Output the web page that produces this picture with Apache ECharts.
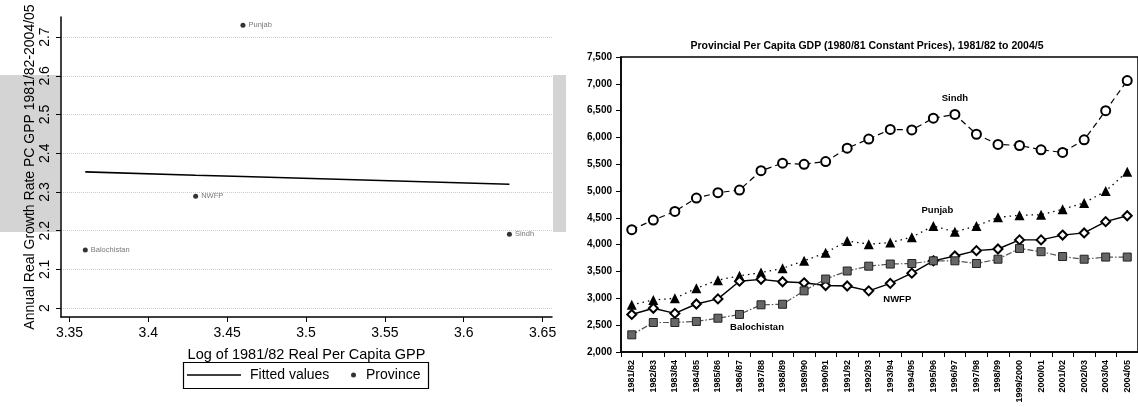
<!DOCTYPE html>
<html>
<head>
<meta charset="utf-8">
<script src="https://cdn.jsdelivr.net/npm/echarts@6/dist/echarts.min.js"></script>
<style>html,body{margin:0;padding:0;background:#fff}#c{width:1138px;height:407px}</style>
</head>
<body>
<div id="c"></div>
<script>
// ---- Left chart data ----
const provinces = ['Punjab', 'NWFP', 'Balochistan', 'Sindh'];
const logGPP = [3.46, 3.43, 3.36, 3.629];
const growthRate = [2.731, 2.289, 2.150, 2.191];
const fittedX = [3.36, 3.43, 3.46, 3.629];
const fittedY = [2.352, 2.343, 2.340, 2.320];
const xTickValues = [3.35, 3.4, 3.45, 3.5, 3.55, 3.6, 3.65];
const yTickValues = [2, 2.1, 2.2, 2.3, 2.4, 2.5, 2.6, 2.7];

// ---- Right chart data ----
const years = ['1981/82','1982/83','1983/84','1984/85','1985/86','1986/87','1987/88','1988/89','1989/90','1990/91','1991/92','1992/93','1993/94','1994/95','1995/96','1996/97','1997/98','1998/99','1999/2000','2000/01','2001/02','2002/03','2003/04','2004/05'];
const sindh = [4280,4460,4620,4870,4970,5020,5380,5520,5500,5550,5800,5970,6150,6140,6360,6430,6060,5870,5850,5770,5720,5955,6500,7060];
const punjab = [2880,2970,3000,3190,3340,3420,3480,3560,3700,3850,4070,4010,4040,4140,4350,4240,4350,4510,4550,4560,4660,4780,5000,5360];
const nwfp = [2700,2815,2720,2895,2990,3320,3355,3310,3290,3240,3230,3140,3280,3470,3700,3790,3890,3920,4090,4090,4180,4220,4430,4540];
const balochistan = [2320,2550,2550,2570,2630,2700,2880,2890,3140,3360,3510,3600,3640,3650,3700,3700,3650,3730,3930,3870,3780,3730,3770,3770];

const FONT = 'Liberation Sans, Arial, sans-serif';

function labelAt(arr, idx, text, opt) {
  return arr.map((v, i) => i === idx ? {
    value: v,
    label: Object.assign({ show: true, formatter: text, fontFamily: FONT, fontWeight: 'bold', fontSize: 9.5, color: '#000' }, opt)
  } : v);
}

const chart = echarts.init(document.getElementById('c'), null, { renderer: 'canvas' });

const option = {
  animation: false,
  backgroundColor: '#fff',
  title: {
    text: 'Provincial Per Capita GDP (1980/81 Constant Prices), 1981/82 to 2004/5',
    left: 862, top: 36, textAlign: 'center',
    textStyle: { fontFamily: FONT, fontWeight: 'bold', fontSize: 10.5, color: '#000' }
  },
  graphic: [
    { type: 'rect', z: -10, shape: { x: 0, y: 75, width: 60, height: 157 }, style: { fill: '#d4d4d4' } },
    { type: 'rect', z: -10, shape: { x: 553, y: 75, width: 13, height: 157 }, style: { fill: '#d4d4d4' } },
    { type: 'rect', z: 10, shape: { x: 183.5, y: 362.5, width: 245, height: 26 }, style: { fill: 'none', stroke: '#000', lineWidth: 1.2 } }
  ],
  legend: [
    {
      data: [{ name: 'Fitted values', icon: 'rect' }], left: 187, top: 368, padding: 0, itemWidth: 54, itemHeight: 1.6,
      textStyle: { fontFamily: FONT, fontSize: 14, color: '#000', padding: [0, 0, 0, 4] },
      selectedMode: false
    },
    {
      data: [{ name: 'Province', icon: 'circle' }], left: 351, top: 368, padding: 0, itemWidth: 5, itemHeight: 5,
      textStyle: { fontFamily: FONT, fontSize: 14, color: '#000', padding: [0, 0, 0, 5] },
      selectedMode: false
    }
  ],
  grid: [
    { left: 61, right: 1138 - 552, top: 17, bottom: 407 - 317 },
    { left: 621, right: -4, top: 57, bottom: 407 - 352, show: true, borderColor: '#000', borderWidth: 1.5 }
  ],
  xAxis: [
    {
      gridIndex: 0, type: 'value', min: 3.3446, max: 3.656,
      name: 'Log of 1981/82 Real Per Capita GPP', nameLocation: 'middle', nameGap: 30,
      nameTextStyle: { fontFamily: FONT, fontSize: 14.5, color: '#000' },
      axisLine: { show: true, onZero: false, lineStyle: { color: '#000', width: 1.5 } },
      axisTick: { show: true, length: 5, customValues: xTickValues, lineStyle: { color: '#000' } },
      axisLabel: { customValues: xTickValues, fontFamily: FONT, fontSize: 14, color: '#000', margin: 9, formatter: v => String(v) },
      splitLine: { show: false }
    },
    {
      gridIndex: 1, type: 'category', data: years, boundaryGap: true,
      axisLine: { show: true, lineStyle: { color: '#000', width: 1.5 } },
      axisTick: { show: true, interval: 0, length: 5, lineStyle: { color: '#000' } },
      axisLabel: { interval: 0, rotate: 90, fontFamily: FONT, fontWeight: 'bold', fontSize: 9, color: '#000', margin: 8 },
      splitLine: { show: false }
    }
  ],
  yAxis: [
    {
      gridIndex: 0, type: 'value', min: 1.977, max: 2.752,
      name: 'Annual Real Growth Rate PC GPP 1981/82-2004/05', nameLocation: 'middle', nameGap: 24,
      nameTextStyle: { fontFamily: FONT, fontSize: 14, color: '#000' },
      axisLine: { show: true, onZero: false, lineStyle: { color: '#000', width: 1.5 } },
      axisTick: { show: true, length: 5, customValues: yTickValues, lineStyle: { color: '#000' } },
      axisLabel: { customValues: yTickValues, rotate: 90, fontFamily: FONT, fontSize: 14, color: '#000', margin: 9, formatter: v => String(v) },
      splitLine: { show: true, lineStyle: { color: '#cccccc', type: 'dotted', width: 1 } }
    },
    {
      gridIndex: 1, type: 'value', min: 2000, max: 7500, interval: 500,
      axisLine: { show: true, lineStyle: { color: '#000', width: 1.5 } },
      axisTick: { show: true, length: 5, lineStyle: { color: '#000' } },
      axisLabel: { fontFamily: FONT, fontWeight: 'bold', fontSize: 10, color: '#000', margin: 9,
        formatter: v => v.toLocaleString('en-US') },
      splitLine: { show: false }
    }
  ],
  series: [
    {
      name: 'Fitted values', type: 'line', xAxisIndex: 0, yAxisIndex: 0,
      data: fittedX.map((x, i) => [x, fittedY[i]]),
      symbol: 'none', lineStyle: { color: '#000', width: 1.6 }, itemStyle: { color: '#000' }, z: 3
    },
    {
      name: 'Province', type: 'scatter', xAxisIndex: 0, yAxisIndex: 0,
      data: logGPP.map((x, i) => ({ value: [x, growthRate[i]], name: provinces[i] })),
      symbol: 'circle', symbolSize: 5, itemStyle: { color: '#000' },
      label: { show: true, position: 'right', distance: 3, formatter: p => p.name, fontFamily: FONT, fontSize: 7.5, color: '#555' }
    },
    {
      name: 'Sindh', type: 'line', xAxisIndex: 1, yAxisIndex: 1,
      data: labelAt(sindh, 15, 'Sindh', { position: 'top', distance: 6 }),
      symbol: 'emptyCircle', symbolSize: 9, showAllSymbol: true,
      lineStyle: { color: '#000', width: 1.2, type: [6, 4] },
      itemStyle: { color: '#000', borderWidth: 1 }
    },
    {
      name: 'Punjab', type: 'line', xAxisIndex: 1, yAxisIndex: 1,
      data: labelAt(punjab, 14, 'Punjab', { position: 'top', distance: 6, offset: [4, 0] }),
      symbol: 'triangle', symbolSize: 10, showAllSymbol: true,
      lineStyle: { color: '#000', width: 1.3, type: [1.5, 4] },
      itemStyle: { color: '#000' }
    },
    {
      name: 'NWFP', type: 'line', xAxisIndex: 1, yAxisIndex: 1,
      data: labelAt(nwfp, 12, 'NWFP', { position: 'bottom', distance: 6, offset: [7, 0] }),
      symbol: 'emptyDiamond', symbolSize: 9, showAllSymbol: true,
      lineStyle: { color: '#000', width: 1.4 },
      itemStyle: { color: '#000', borderWidth: 1 }
    },
    {
      name: 'Balochistan', type: 'line', xAxisIndex: 1, yAxisIndex: 1,
      data: labelAt(balochistan, 6, 'Balochistan', { position: 'bottom', distance: 13, offset: [-4, 0] }),
      symbol: 'rect', symbolSize: 8, showAllSymbol: true,
      lineStyle: { color: '#555', width: 1.2, type: [6, 2, 1.5, 2] },
      itemStyle: { color: '#666', borderColor: '#222', borderWidth: 1 }
    }
  ]
};
chart.setOption(option);
</script>
</body>
</html>
